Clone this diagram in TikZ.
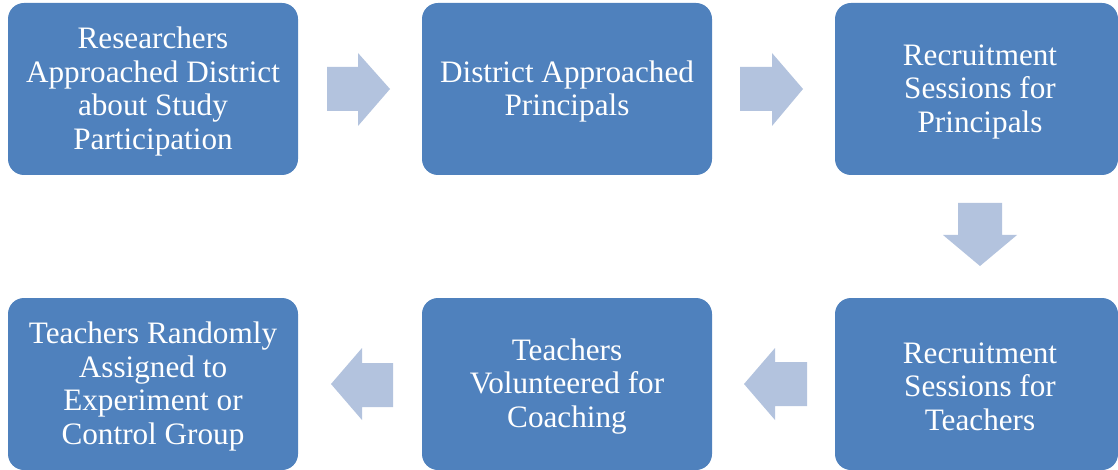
\documentclass[tikz,border=0pt]{standalone}
\usepackage{fontspec}
\setmainfont{Liberation Serif}
\definecolor{boxblue}{HTML}{4F81BD}
\definecolor{arrowblue}{HTML}{B3C3DE}
\tikzset{
  stepbox/.style={rectangle, rounded corners=16pt, fill=boxblue, draw=none,
    minimum width=290pt, minimum height=172pt, inner sep=0pt},
  steptext/.style={inner sep=0pt, align=center, text=white,
    font=\fontsize{31.2}{33.5}\selectfont},
  blockarrow/.style={fill=arrowblue, draw=none}
}
\begin{document}
\begin{tikzpicture}[x=1pt,y=-1pt]
\useasboundingbox (0,0) rectangle (1118,470);
\clip (0,0) rectangle (1118,470);
% boxes
\node[stepbox] (b1) at (153,89) {};
\node[stepbox] (b2) at (567,89) {};
\node[stepbox, minimum width=283pt] (b3) at (976.5,89) {};
\node[stepbox, minimum width=283pt] (b4) at (976.5,384) {};
\node[stepbox] (b5) at (567,384) {};
\node[stepbox] (b6) at (153,384) {};
% texts
\node[steptext] (t1) at ([yshift=-2.5pt]b1.center) {Researchers\\Approached District\\about Study\\Participation};
\node[steptext] (t2) at ([yshift=-2.5pt]b2.center) {District Approached\\Principals};
\node[steptext] (t3) at ([xshift=3.5pt,yshift=-2.5pt]b3.center) {Recruitment\\Sessions for\\Principals};
\node[steptext] (t4) at ([xshift=3.5pt,yshift=-2.5pt]b4.center) {Recruitment\\Sessions for\\Teachers};
\node[steptext] (t5) at ([yshift=-2.5pt]b5.center) {Teachers\\Volunteered for\\Coaching};
\node[steptext] (t6) at ([yshift=-2.5pt]b6.center) {Teachers Randomly\\Assigned to\\Experiment or\\Control Group};
% block arrows
\fill[blockarrow] (327,67) -- (358,67) -- (358,53) -- (390,89) -- (358,126) -- (358,111) -- (327,111) -- cycle;
\fill[blockarrow] (740,67) -- (772,67) -- (772,53) -- (803,89) -- (772,126) -- (772,111) -- (740,111) -- cycle;
\fill[blockarrow] (958,203) -- (1002,203) -- (1002,235) -- (1017,235) -- (980,266) -- (943,235) -- (958,235) -- cycle;
\fill[blockarrow] (807,362) -- (775,362) -- (775,348) -- (744,384) -- (775,420) -- (775,406) -- (807,406) -- cycle;
\fill[blockarrow] (393,363) -- (362,363) -- (362,348) -- (331,384) -- (362,420) -- (362,407) -- (393,407) -- cycle;
\end{tikzpicture}
\end{document}
